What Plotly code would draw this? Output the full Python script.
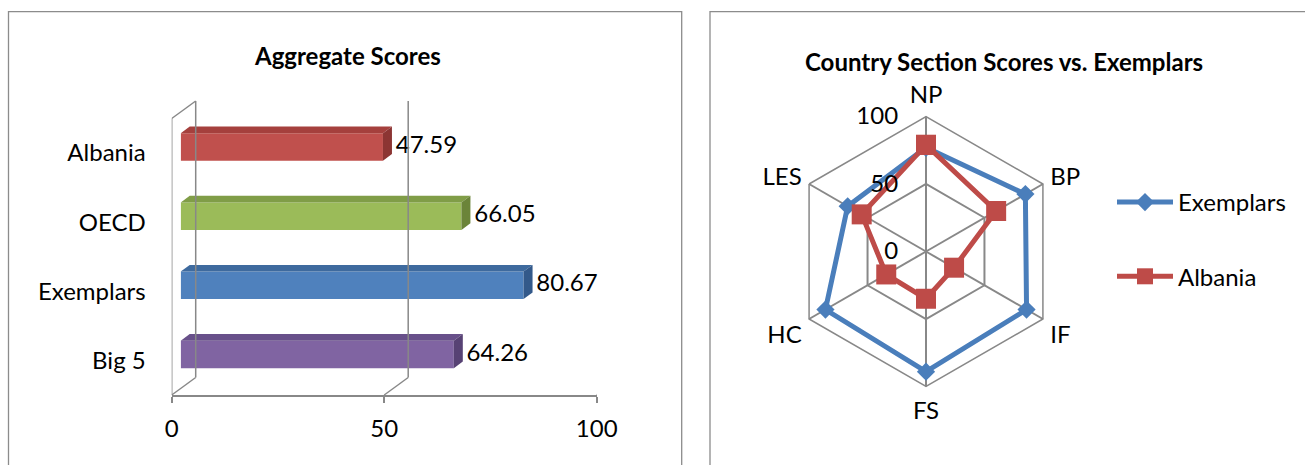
import plotly.graph_objects as go

# ---- data -------------------------------------------------------------
bar_categories = ["Albania", "OECD", "Exemplars", "Big 5"]
bar_values = [47.59, 66.05, 80.67, 64.26]
bar_front = ["#C0504D", "#9BBB59", "#4F81BD", "#8064A2"]
bar_top = ["#A5403D", "#809D47", "#3E6A9E", "#68508A"]
bar_side = ["#8C3533", "#6B8439", "#33598A", "#574274"]

x_ticks = [0, 50, 100]

radar_axes = ["NP", "BP", "IF", "FS", "HC", "LES"]
exemplars = [77, 85, 86, 89, 86, 67]
albania = [79, 60, 24, 35, 34, 55]
radar_ticks = [0, 50, 100]

# ---- layout helpers ---------------------------------------------------
W, H = 1305, 465
FONT = "Lato"
GRID = "#888888"
CLEAR = "rgba(0,0,0,0)"


def px(x):
    return x / W


def py(y):
    return 1 - y / H


fig = go.Figure()

# depth of the 3D bars in axis units (x: 4.25 px/unit, y: 69.17 px/category)
bar_dx = 9 / 4.25
bar_dy = 6.7 / 69.17
bar_w = 0.398
idx = list(range(len(bar_categories)))

# front faces
fig.add_trace(go.Bar(
    x=bar_values, y=idx, orientation="h", width=bar_w,
    marker=dict(color=bar_front, line=dict(width=0)),
    xaxis="x", yaxis="y", hoverinfo="skip", showlegend=False,
))

# top and side faces
for i, v in enumerate(bar_values):
    top = idx[i] - bar_w / 2
    bot = idx[i] + bar_w / 2
    fig.add_trace(go.Scatter(
        x=[0, v, v + bar_dx, bar_dx, 0],
        y=[top, top, top - bar_dy, top - bar_dy, top],
        fill="toself", fillcolor=bar_top[i], mode="lines",
        line=dict(width=0, color=bar_top[i]),
        xaxis="x", yaxis="y", hoverinfo="skip", showlegend=False,
    ))
    fig.add_trace(go.Scatter(
        x=[v, v + bar_dx, v + bar_dx, v, v],
        y=[top, top - bar_dy, bot - bar_dy, bot, top],
        fill="toself", fillcolor=bar_side[i], mode="lines",
        line=dict(width=0, color=bar_side[i]),
        xaxis="x", yaxis="y", hoverinfo="skip", showlegend=False,
    ))

# value labels just past the side face
label_gap = 0.9
fig.add_trace(go.Scatter(
    x=[v + bar_dx + label_gap for v in bar_values], y=idx, mode="text",
    text=[f"{v:.2f}" for v in bar_values], textposition="middle right",
    textfont=dict(family=FONT, size=24, color="black"),
    xaxis="x", yaxis="y", hoverinfo="skip", showlegend=False,
))

# radar series
for name, vals, color, symbol, size in [
    ("Exemplars", exemplars, "#4A7EBB", "diamond", 14),
    ("Albania", albania, "#BE4B48", "square", 20),
]:
    fig.add_trace(go.Scatterpolar(
        r=vals + vals[:1], theta=radar_axes + radar_axes[:1],
        mode="lines+markers", name=name,
        line=dict(color=color, width=5),
        marker=dict(symbol=symbol, size=size, color=color),
        legendgroup=name,
    ))

# walls and floor of the 3D bar chart
depth_x, depth_y = 24, 17.5
floor_y, wall_top = 395, 101
shapes = []
for t in x_ticks:
    shapes.append(dict(type="line", xref="x2", yref="paper",
                       xsizemode="pixel", xanchor=t, x0=depth_x, x1=depth_x,
                       y0=py(floor_y - depth_y), y1=py(wall_top),
                       line=dict(color=GRID, width=1.5)))
    shapes.append(dict(type="line", xref="x2", yref="paper",
                       xsizemode="pixel", xanchor=t, x0=0, x1=depth_x,
                       y0=py(floor_y), y1=py(floor_y - depth_y),
                       line=dict(color=GRID, width=1.5)))
shapes.append(dict(type="line", xref="x2", yref="paper",
                   xsizemode="pixel", xanchor=x_ticks[0], x0=0, x1=0,
                   y0=py(floor_y), y1=py(wall_top + depth_y),
                   line=dict(color=GRID, width=1.5)))
shapes.append(dict(type="line", xref="x2", yref="paper",
                   xsizemode="pixel", xanchor=x_ticks[0], x0=0, x1=depth_x,
                   y0=py(wall_top + depth_y), y1=py(wall_top),
                   line=dict(color=GRID, width=1.5)))

# chart frames
shapes.append(dict(type="rect", xref="paper", yref="paper",
                   x0=px(8.5), x1=px(681.7), y0=-0.1, y1=py(11.7),
                   line=dict(color="#8C8C8C", width=1.3), layer="below"))
shapes.append(dict(type="rect", xref="paper", yref="paper",
                   x0=px(710), x1=1.1, y0=-0.1, y1=py(11.7),
                   line=dict(color="#8C8C8C", width=1.3), layer="below"))

annotations = [
    dict(text="<b>Aggregate Scores</b>", x=px(347), y=py(55), xref="paper",
         yref="paper", showarrow=False, xanchor="center", yanchor="middle",
         font=dict(family=FONT, size=24, color="black")),
    dict(text="<b>Country Section Scores vs. Exemplars</b>", x=px(1004),
         y=py(61), xref="paper", yref="paper", showarrow=False,
         xanchor="center", yanchor="middle",
         font=dict(family=FONT, size=24, color="black")),
]

cx, cy, R = 926, 251.5, 135

fig.update_layout(
    width=W, height=H,
    margin=dict(l=0, r=0, t=0, b=0, autoexpand=False),
    paper_bgcolor="white", plot_bgcolor=CLEAR,
    font=dict(family=FONT, size=24, color="black"),
    xaxis=dict(domain=[px(180.7), px(605.7)], range=[0, 100], visible=False,
               anchor="y"),
    xaxis2=dict(domain=[px(171.7), px(596.7)], range=[0, 100], anchor="y",
                tickvals=x_ticks, ticks="outside", ticklen=6,
                tickcolor=GRID, tickwidth=1.5, showline=True,
                linecolor=GRID, linewidth=1.5, showgrid=False,
                zeroline=False, ticklabelstandoff=5,
                tickfont=dict(family=FONT, size=24, color="black")),
    yaxis=dict(domain=[py(395), py(90)], range=[3.585, -0.824],
               tickvals=idx, ticktext=bar_categories, showgrid=False,
               zeroline=False, showline=False, ticks="", anchor="x",
               ticklabelstandoff=34, ticklabelshift=-6,
               tickfont=dict(family=FONT, size=24, color="black")),
    polar=dict(
        domain=dict(x=[px(cx - R), px(cx + R)], y=[py(cy + R), py(cy - R)]),
        bgcolor="white", gridshape="linear",
        angularaxis=dict(direction="clockwise", rotation=90,
                         linecolor=GRID, linewidth=1.5, gridcolor=GRID,
                         gridwidth=1.5, ticks="outside", ticklen=3,
                         tickcolor=CLEAR,
                         tickfont=dict(family=FONT, size=24, color="black")),
        radialaxis=dict(range=[0, 100], tickvals=radar_ticks, angle=90,
                        tickangle=90, showline=False, gridcolor=GRID,
                        gridwidth=1.5, ticks="outside", ticklen=19,
                        tickcolor=CLEAR, side="counterclockwise",
                        tickfont=dict(family=FONT, size=24, color="black")),
    ),
    legend=dict(x=px(1112), y=py(180), xanchor="left", yanchor="top",
                font=dict(family=FONT, size=24, color="black"),
                itemwidth=56, tracegroupgap=40, bgcolor=CLEAR),
    shapes=shapes,
    annotations=annotations,
)

fig.write_html("out.html")
